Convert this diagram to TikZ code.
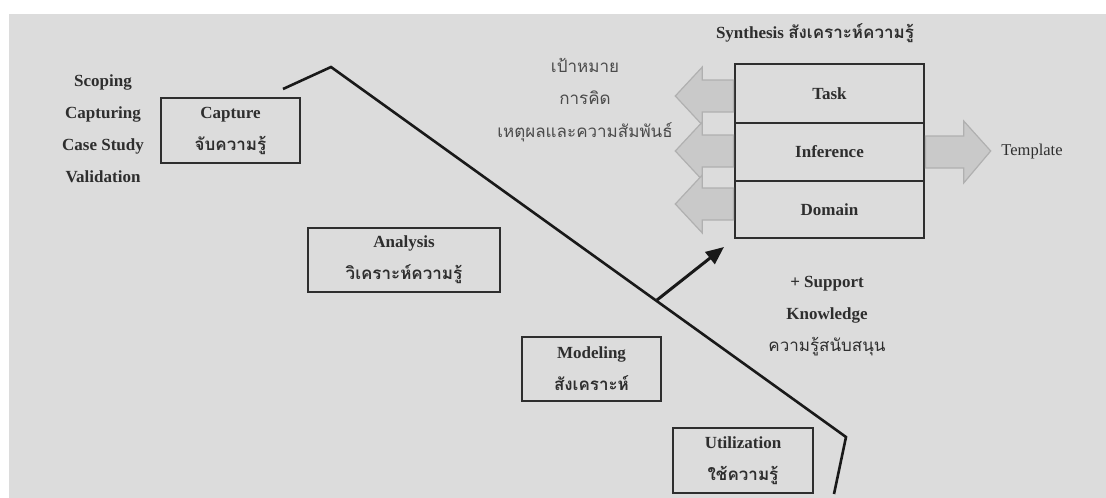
\documentclass[tikz,border=0pt]{standalone}
\usepackage{fontspec}
\setmainfont{Liberation Serif}
\newfontfamily\thai[Script=Thai]{Loma}
\usetikzlibrary{arrows.meta}
\definecolor{bg}{HTML}{DCDCDC}
\definecolor{ink}{HTML}{2E2E2E}
\definecolor{soft}{HTML}{4A4A4A}
\definecolor{blockfill}{HTML}{C9C9C9}
\definecolor{blockedge}{HTML}{B0B0B0}
\tikzset{
  stagebox/.style={draw=ink, line width=1.4pt, text=ink, align=center,
    inner sep=0pt, font=\fontsize{17}{32}\selectfont\bfseries},
  layerbox/.style={draw=ink, line width=1.4pt, text=ink, minimum width=189pt,
    inner sep=0pt, font=\fontsize{17}{20}\selectfont\bfseries},
  label/.style={text=ink, align=center, inner sep=0pt,
    font=\fontsize{17}{32}\selectfont\bfseries},
  thailabel/.style={text=soft, align=center, inner sep=0pt,
    font=\fontsize{17}{32.5}\selectfont\thai},
  blockarrow/.style={fill=blockfill, draw=blockedge, line width=1.2pt},
  lifeline/.style={line width=2.6pt, draw=black!90},
  pointer/.style={line width=3pt, draw=black!90, -{Triangle[length=18pt,width=15pt]}},
}
\begin{document}
\begin{tikzpicture}[x=1pt,y=-1pt]
\useasboundingbox (0,0) rectangle (1106,498);
\fill[white] (0,0) rectangle (1106,498);
\fill[bg] (9,14) rectangle (1106,498);

% left-hand list of activities
\node[label] (activities) at (103,129) {Scoping\\Capturing\\Case Study\\Validation};

% the four stage boxes
\node[stagebox, minimum width=139pt, minimum height=65pt] (capture) at (230.5,130.5)
  {Capture\\{\thai จับความรู้}};
\node[stagebox, minimum width=192pt, minimum height=64pt] (analysis) at (404,260)
  {Analysis\\{\thai วิเคราะห์ความรู้}};
\node[stagebox, minimum width=139pt, minimum height=64pt] (modeling) at (591.5,369)
  {Modeling\\{\thai สังเคราะห์}};
\node[stagebox, minimum width=140pt, minimum height=65pt] (utilization) at (743,460.5)
  {Utilization\\{\thai ใช้ความรู้}};

% synthesis layers
\node[label] (synthesis) at (815,33) {Synthesis {\thai สังเคราะห์ความรู้}};
\node[layerbox, minimum height=59pt] (task) at (829.5,93.5) {Task};
\node[layerbox, minimum height=58pt] (inference) at (829.5,152) {Inference};
\node[layerbox, minimum height=57pt] (domain) at (829.5,209.5) {Domain};

% block arrows leaving the layers
\foreach \layer/\dy in {task/-2.5, inference/1, domain/5.5}{
  \path[blockarrow, shift={(\layer.west)}, yshift=\dy]
    (-0.8,-16) -- (-32,-16) -- (-32,-29) -- (-59,0) -- (-32,29) -- (-32,16) -- (-0.8,16) -- cycle;
}
\path[blockarrow, shift={(inference.east)}]
  (0.8,-16) -- (39,-16) -- (39,-31) -- (66,-1) -- (39,31) -- (39,16) -- (0.8,16) -- cycle;
\node[text=ink, inner sep=0pt, font=\fontsize{16.5}{20}\selectfont] (template) at (1032,152) {Template};

% thai notes on the layers
\node[thailabel] (goals) at (585,100) {เป้าหมาย\\การคิด\\เหตุผลและความสัมพันธ์};

% support knowledge
\node[label] (support) at (827,316) {+ Support\\Knowledge\\{\thai\mdseries ความรู้สนับสนุน}};

% knowledge life line
\coordinate (start) at (283,89);
\coordinate (peak) at (331,67);
\coordinate (knee) at (846,437);
\coordinate (finish) at (834,494);
\draw[lifeline, line join=miter] (start) -- (peak) -- (knee) -- (finish);

% pointer from the life line up to the layers
\coordinate (branch) at (657,300);
\coordinate (reach) at (724,247);
\draw[pointer] (branch) -- (reach);
\end{tikzpicture}
\end{document}
